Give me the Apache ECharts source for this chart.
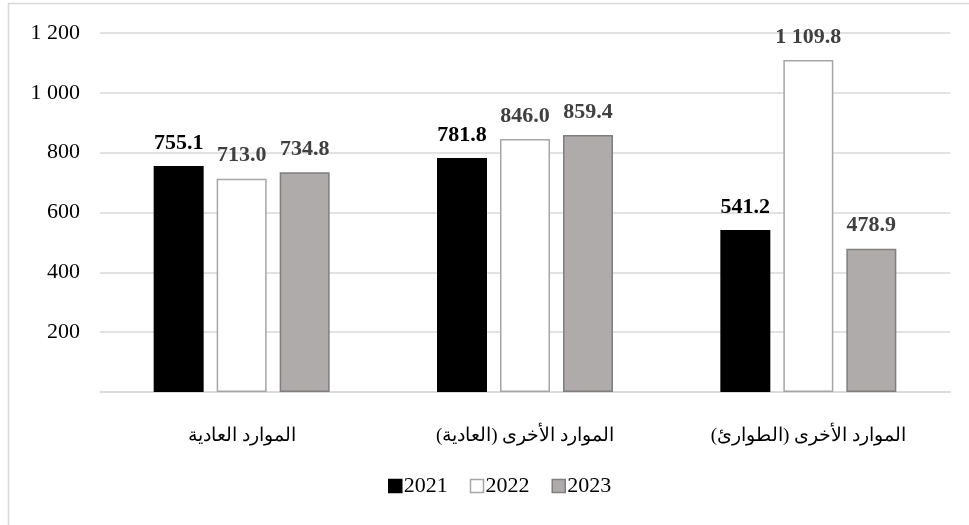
<!DOCTYPE html>
<html><head><meta charset="utf-8">
<script src="https://cdn.jsdelivr.net/npm/echarts@6/dist/echarts.min.js"></script>
<style>html,body{margin:0;padding:0;background:#fff}#c{width:969px;height:525px}</style>
</head><body><div id="c"></div>
<script>
const categories = ['الموارد العادية', 'الموارد الأخرى (العادية)', 'الموارد الأخرى (الطوارئ)'];
const years = ['2021', '2022', '2023'];
const v2021 = [755.1, 781.8, 541.2];
const v2022 = [713.0, 846.0, 1109.8];
const v2023 = [734.8, 859.4, 478.9];
const yTicks = [0, 200, 400, 600, 800, 1000, 1200];

const fmt = v => {
  const s = v.toFixed(1);
  const [i, d] = s.split('.');
  return i.replace(/\B(?=(\d{3})+(?!\d))/g, ' ') + '.' + d;
};
const serif = "'Liberation Serif','Times New Roman',serif";
const chart = echarts.init(document.getElementById('c'));
const styles = [
  {fill: '#000000', border: '#000000', label: '#000000'},
  {fill: '#ffffff', border: '#A6A6A6', label: '#404040'},
  {fill: '#AFABAB', border: '#7F7F7F', label: '#404040'}
];
const values = [v2021, v2022, v2023];
chart.setOption({
  animation: false,
  graphic: [{type: 'rect', shape: {x: 8.5, y: 3.5, width: 1000, height: 600}, style: {fill: 'none', stroke: '#D9D9D9', lineWidth: 1.5}, z: -1}],
  grid: {left: 100, right: 19, top: 33, bottom: 133, containLabel: false},
  legend: {
    bottom: 23, left: 383, itemWidth: 13, itemHeight: 13, itemGap: 22,
    icon: 'rect',
    textStyle: {fontFamily: serif, fontSize: 22, color: '#000', padding: [0, 0, 0, -3]},
    data: years.map((y, i) => ({name: y, itemStyle: {color: styles[i].fill, borderColor: styles[i].border, borderWidth: 1.5}}))
  },
  xAxis: {
    type: 'category', data: categories,
    axisLine: {lineStyle: {color: '#D9D9D9', width: 1.5}},
    axisTick: {show: false},
    axisLabel: {fontFamily: serif, fontSize: 19, color: '#000', margin: 35}
  },
  yAxis: {
    type: 'value', min: 0, max: 1200, interval: 200,
    axisLine: {show: false}, axisTick: {show: false},
    splitLine: {lineStyle: {color: '#D9D9D9', width: 1.5}},
    axisLabel: {
      fontFamily: serif, fontSize: 22, color: '#000', margin: 20,
      formatter: v => (v === 0 || !yTicks.includes(v)) ? '' : String(v).replace(/\B(?=(\d{3})+(?!\d))/g, ' ')
    }
  },
  series: years.map((y, i) => ({
    name: y, type: 'bar', data: values[i], barWidth: 50, barGap: '26%',
    itemStyle: {color: styles[i].fill, borderColor: styles[i].border, borderWidth: i === 0 ? 0 : 1.5},
    label: {show: true, position: 'top', distance: 12, fontFamily: serif, fontSize: 22, fontWeight: 'bold', color: styles[i].label, formatter: p => fmt(p.value)}
  }))
});
</script></body></html>
